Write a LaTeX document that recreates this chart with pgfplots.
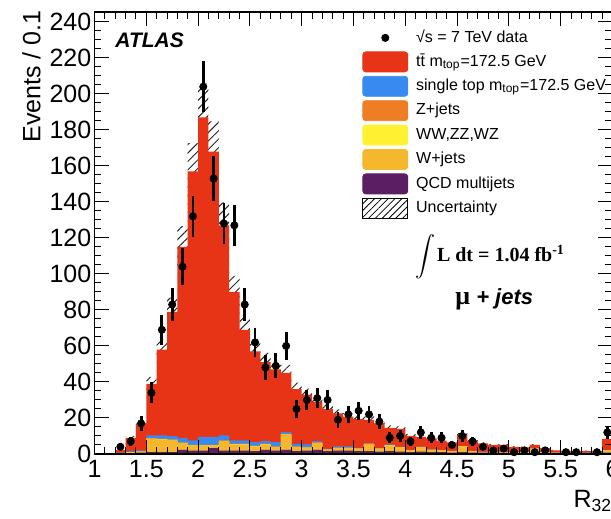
\documentclass[border=0pt]{standalone}
\usepackage{fontspec}
\setmainfont{Liberation Sans}
\newfontfamily\serifbf{Liberation Serif}
\usepackage{pgfplots}
\pgfplotsset{compat=1.18}
\usepackage{pgfplotstable}
\usepgfplotslibrary{fillbetween}
\usetikzlibrary{patterns,patterns.meta}

\definecolor{ttred}{RGB}{232,52,22}
\definecolor{stblue}{RGB}{55,138,240}
\definecolor{zorange}{RGB}{238,125,35}
\definecolor{dbyellow}{RGB}{255,242,50}
\definecolor{wgold}{RGB}{245,184,45}
\definecolor{qcdpurple}{RGB}{92,30,98}

% cumulative stack tops per 0.1 bin (left edge)
\pgfplotstableread{
x qcd wj db zj st tot
1.0 0 0 0 0 0 0
1.1 0 0 0 0 0 0
1.2 0.3 0.5 0.55 0.6 0.8 2.2
1.3 0.5 0.8 0.85 1.0 1.5 9
1.4 0.8 1.2 1.25 1.4 2.0 17
1.5 1.0 8.4 8.55 8.8 10.3 39
1.6 1.0 8.1 8.25 8.5 10.3 58
1.7 1.0 7.7 7.85 8.1 9.9 79
1.8 2.3 6.0 6.15 6.4 9.0 115
1.9 1.9 4.7 4.85 5.1 7.5 157
2.0 1.9 4.7 4.85 5.1 9.4 187
2.1 3.2 4.7 4.85 5.1 9.4 168
2.2 1.9 7.1 7.25 7.5 10.3 127
2.3 1.9 5.3 5.45 5.7 7.5 90
2.4 1.9 5.3 5.45 5.7 7.5 69
2.5 1.6 4.2 4.35 4.6 6.6 57
2.6 2.3 5.3 5.45 5.7 7.1 51
2.7 1.9 3.8 3.95 4.2 6.6 47
2.8 2.3 10.8 10.95 11.2 12.1 45
2.9 1.6 3.8 3.95 4.2 5.6 36
3.0 1.9 3.4 3.55 3.8 5.3 33
3.1 2.3 6.0 6.15 6.4 7.1 29
3.2 1.6 2.3 2.45 2.6 2.9 25
3.3 1.9 3.2 3.35 3.5 4.2 22.5
3.4 1.9 3.2 3.35 3.5 4.2 20.7
3.5 1.6 2.9 3.0 3.1 3.4 19.4
3.6 1.6 5.5 5.6 5.7 5.9 19
3.7 1.3 2.9 3.0 3.1 3.2 17
3.8 1.6 4.7 4.8 4.9 5.3 14.5
3.9 1.3 3.8 3.85 3.9 4.0 14
4.0 1.0 1.9 1.95 2.0 2.2 10
4.1 1.3 3.8 3.85 3.9 4.1 9.5
4.2 1.0 2.3 2.35 2.4 2.6 8.7
4.3 1.0 1.9 1.95 2.0 2.2 7.4
4.4 0.8 1.6 1.65 1.7 1.8 6.5
4.5 1.0 4.2 4.25 4.3 4.5 10.5
4.6 0.8 1.6 1.65 1.7 1.8 7
4.7 0.7 1.0 1.05 1.1 1.3 5.9
4.8 0.7 1.0 1.05 1.1 1.2 5
4.9 0.6 1.0 1.05 1.1 1.2 5
5.0 0.6 0.9 0.95 1.0 1.1 4
5.1 0.5 0.8 0.85 0.9 1.0 3.7
5.2 0.6 2.9 2.95 3.0 3.1 5
5.3 0.5 0.8 0.85 0.9 1.0 3.3
5.4 0.4 0.6 0.65 0.7 0.8 2
5.5 0.4 0.5 0.55 0.6 0.7 1.7
5.6 0.4 0.5 0.55 0.6 0.7 1.7
5.7 0.4 0.5 0.55 0.6 0.7 1.7
5.8 0.4 0.5 0.55 0.6 0.7 1.7
5.9 0.8 1.9 1.95 2.0 2.3 8.3
6.0 0.8 1.9 1.95 2.0 2.3 8.3
}\stack

\pgfplotstableread{
x n
1.25 4
1.35 7
1.45 17
1.55 34
1.65 69
1.75 83
1.85 104
1.95 132
2.05 204
2.15 153
2.25 128
2.35 127
2.45 83
2.55 62
2.65 48
2.75 49
2.85 60
2.95 25
3.05 30
3.15 31
3.25 30
3.35 19
3.45 22
3.55 24
3.65 22
3.75 18
3.85 9
3.95 10
4.05 7
4.15 12
4.25 9
4.35 9
4.45 5
4.55 10
4.65 7
4.75 4
4.85 2
4.95 3
5.05 1
5.15 2
5.25 1
5.35 2
5.55 1
5.65 1
5.85 1
5.95 12
}\data

\begin{document}
\begin{tikzpicture}
\begin{axis}[
  scale only axis, width=259pt, height=221pt,
  xmin=1, xmax=6, ymin=0, ymax=245.5,
  axis on top,
  xtick={1,1.5,2,2.5,3,3.5,4,4.5,5,5.5,6},
  minor x tick num=4,
  ytick={0,20,40,60,80,100,120,140,160,180,200,220,240},
  minor y tick num=3,
  major tick length=7pt, minor tick length=3.5pt,
  tick style={black, line width=0.5pt},
  axis line style={line width=0.6pt},
  /pgf/number format/assume math mode=true,
  tick label style={font=\fontsize{12.5}{15}\selectfont},
  yticklabel style={inner sep=0pt, xshift=-1.4pt},
  xticklabel style={inner sep=0pt, yshift=-3pt},
  label style={font=\fontsize{12.5}{15}\selectfont},
  ylabel={Events / 0.1},
  ylabel style={at={(axis description cs:-0.1216,1.0045)}, anchor=east, inner sep=0pt},
  xlabel={R\textsubscript{32}},
  xlabel style={at={(axis description cs:1,-0.0814)}, anchor=north east, inner sep=0pt},
  legend cell align=left,
  legend style={draw=none, fill=none, at={(0.5164,0.965)}, anchor=north west,
    inner sep=0pt, row sep=1.8pt, column sep=3.5pt,
    font=\fontsize{8}{9.6}\selectfont,
    nodes={inner sep=0.5pt, text height=6pt, text depth=1.8pt}},
]
% legend images
\addlegendimage{legend image code/.code={\path[draw=none,fill=none] (0pt,-5pt) rectangle (22.5pt,5pt); \fill[black] (11.25pt,0pt) circle (1.8pt);}}
\addlegendentry{√s = 7 TeV data}
\addlegendimage{legend image code/.code={\fill[ttred, rounded corners=1.5pt] (0pt,-5pt) rectangle (22.5pt,5pt);}}
\addlegendentry{tt̄ m\textsubscript{top}=172.5 GeV}
\addlegendimage{legend image code/.code={\fill[stblue, rounded corners=1.5pt] (0pt,-5pt) rectangle (22.5pt,5pt);}}
\addlegendentry{single top m\textsubscript{top}=172.5 GeV}
\addlegendimage{legend image code/.code={\fill[zorange, rounded corners=1.5pt] (0pt,-5pt) rectangle (22.5pt,5pt);}}
\addlegendentry{Z+jets}
\addlegendimage{legend image code/.code={\fill[dbyellow, rounded corners=1.5pt] (0pt,-5pt) rectangle (22.5pt,5pt);}}
\addlegendentry{WW,ZZ,WZ}
\addlegendimage{legend image code/.code={\fill[wgold, rounded corners=1.5pt] (0pt,-5pt) rectangle (22.5pt,5pt);}}
\addlegendentry{W+jets}
\addlegendimage{legend image code/.code={\fill[qcdpurple, rounded corners=1.5pt] (0pt,-5pt) rectangle (22.5pt,5pt);}}
\addlegendentry{QCD multijets}
\addlegendimage{legend image code/.code={\draw[black, line width=0.5pt, pattern={Lines[angle=45,distance=2.4pt,line width=0.4pt]}, pattern color=black] (0pt,-5pt) rectangle (22.5pt,5pt);}}
\addlegendentry{Uncertainty}

% stacked histograms (cumulative tops, drawn from the top down)
\addplot[const plot, fill=ttred, draw=none, forget plot] table[x=x,y=tot]{\stack} \closedcycle;
\addplot[const plot, fill=stblue, draw=none, forget plot] table[x=x,y=st]{\stack} \closedcycle;
\addplot[const plot, fill=zorange, draw=none, forget plot] table[x=x,y=zj]{\stack} \closedcycle;
\addplot[const plot, fill=dbyellow, draw=none, forget plot] table[x=x,y=db]{\stack} \closedcycle;
\addplot[const plot, fill=wgold, draw=none, forget plot] table[x=x,y=wj]{\stack} \closedcycle;
\addplot[const plot, fill=qcdpurple, draw=none, forget plot] table[x=x,y=qcd]{\stack} \closedcycle;

% uncertainty band
\addplot[const plot, draw=none, name path=up, forget plot] table[x=x, y expr=\thisrow{tot}*1.10]{\stack};
\addplot[const plot, draw=none, name path=lo, forget plot] table[x=x, y expr=\thisrow{tot}*0.90]{\stack};
\addplot[draw=none, pattern={Lines[angle=45,distance=3pt,line width=0.5pt]}, pattern color=black!85, forget plot] fill between[of=up and lo];

% data
\addplot[only marks, mark=*, mark size=1.8pt, black, forget plot,
  error bars/.cd, y dir=both, y explicit, error mark=none,
  error bar style={line width=1.4pt, black}]
  table[x=x, y=n, y error expr=sqrt(\thisrow{n})]{\data};

\node[anchor=base west, inner sep=0pt, font=\fontsize{10.5}{12}\selectfont\bfseries\itshape] at (axis cs:1.198,225.5) {ATLAS};
\node[anchor=base west, inner sep=0pt, font=\fontsize{10}{12}\selectfont] at (axis cs:4.09,107) {\smash{$\displaystyle\int$}\kern1pt{\serifbf\bfseries L dt = 1.04 fb\textsuperscript{-1}}};
\node[anchor=base west, inner sep=0pt, font=\fontsize{11}{13}\selectfont] at (axis cs:4.48,83) {{\serifbf\bfseries\fontsize{13}{14}\selectfont μ} \textbf{\textit{+ jets}}};

\coordinate (O) at (rel axis cs:0,0);
\end{axis}
\pgfresetboundingbox
\path[use as bounding box] ([shift={(-47.25pt,-32.5pt)}]O) rectangle ([shift={(258.25pt,227pt)}]O);
\end{tikzpicture}
\end{document}
